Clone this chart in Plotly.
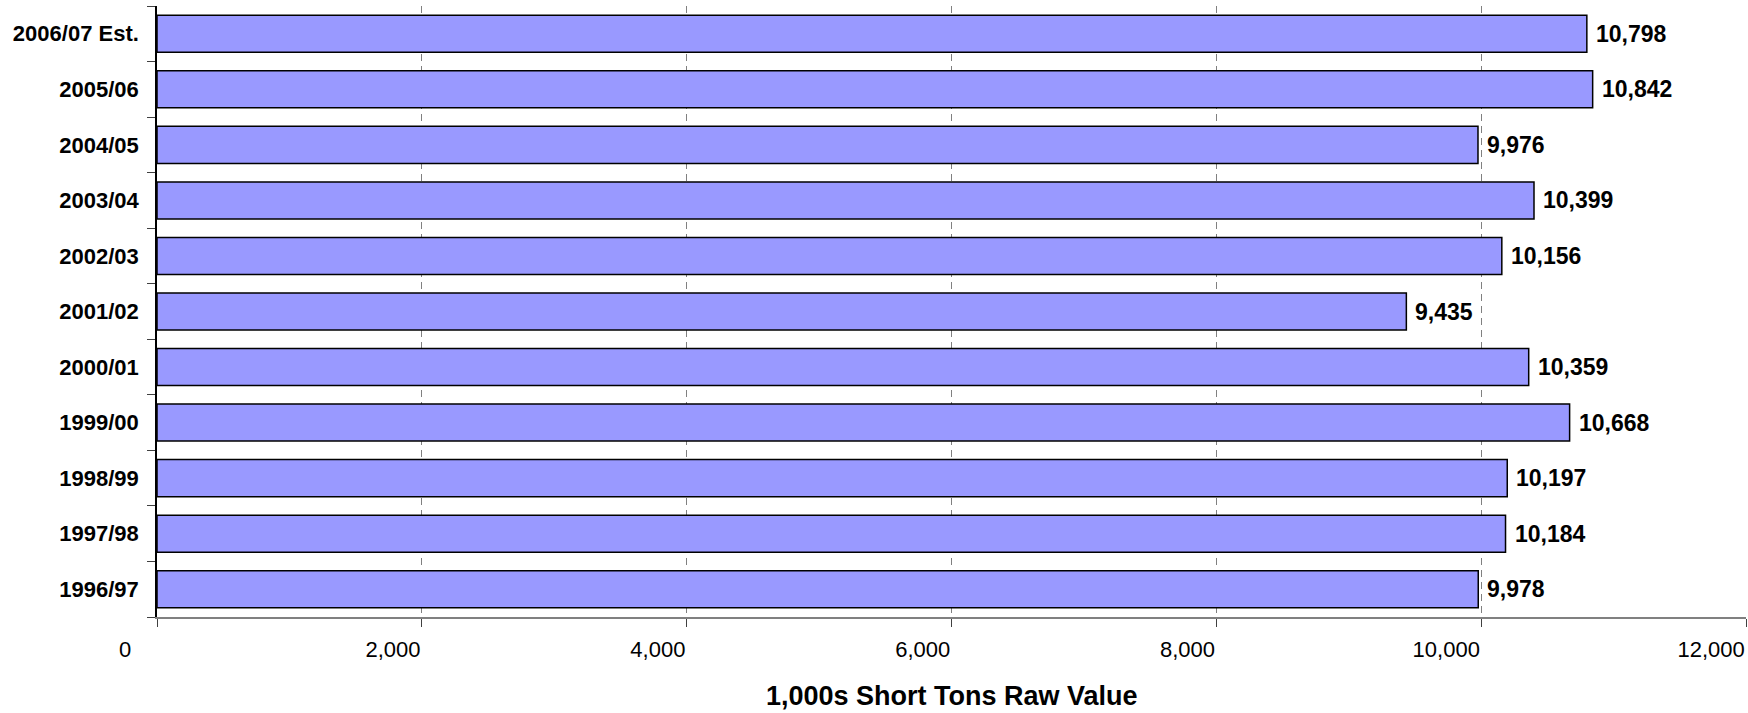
import plotly.graph_objects as go

categories = ["1996/97", "1997/98", "1998/99", "1999/00", "2000/01", "2001/02",
              "2002/03", "2003/04", "2004/05", "2005/06", "2006/07 Est."]
values = [9978, 10184, 10197, 10668, 10359, 9435, 10156, 10399, 9976, 10842, 10798]
x_ticks = [0, 2000, 4000, 6000, 8000, 10000, 12000]
x_tick_labels = ["0", "2,000", "4,000", "6,000", "8,000", "10,000", "12,000"]
x_title = "1,000s Short Tons Raw Value"

FONT = "Arial, 'Liberation Sans', sans-serif"

# the "0" label sits further left of its tick in the reference
tick_text = [x_tick_labels[0] + "\u00a0" * 4] + x_tick_labels[1:]

fig = go.Figure()
fig.add_trace(go.Bar(
    x=values, y=categories, orientation="h",
    marker=dict(color="#9999FF", line=dict(color="#000000", width=1.5)),
    hoverinfo="x+y",
))

annotations = []
for c, v in zip(categories, values):
    annotations.append(dict(
        x=v, y=c, xref="x", yref="y", text=f"<b>{v:,}</b>",
        showarrow=False, xanchor="left", yanchor="middle", xshift=7,
        font=dict(family=FONT, size=23, color="#000000"),
    ))
annotations.append(dict(
    x=0.5, y=0, xref="paper", yref="paper", yshift=-79,
    text=f"<b>{x_title}</b>", showarrow=False, xanchor="center", yanchor="middle",
    font=dict(family=FONT, size=27, color="#000000"),
))

fig.update_layout(
    width=1748, height=713,
    margin=dict(l=157, r=2, t=6, b=96),
    paper_bgcolor="#FFFFFF", plot_bgcolor="#FFFFFF",
    bargap=0.333,
    showlegend=False,
    annotations=annotations,
    font=dict(family=FONT, size=22, color="#000000"),
)
fig.update_xaxes(
    range=[0, 12000], tickvals=x_ticks, ticktext=tick_text,
    showgrid=True, gridcolor="#808080", gridwidth=1, griddash="7px,5px",
    zeroline=False,
    showline=True, linecolor="#808080", linewidth=1.5,
    ticks="outside", ticklen=8, tickcolor="#404040", tickwidth=1,
    ticklabelposition="outside left", ticklabelstandoff=12,
    tickfont=dict(family=FONT, size=22, color="#000000"),
)
fig.update_yaxes(
    type="category", categoryorder="array", categoryarray=categories,
    showgrid=False, zeroline=False,
    showline=True, linecolor="#000000", linewidth=1.5,
    ticks="outside", ticklen=8, tickcolor="#404040", tickwidth=1,
    tickson="boundaries", ticklabelstandoff=12,
    tickfont=dict(family=FONT, size=22, color="#000000", weight="bold"),
)

fig.write_html(
    "out.html",
    config={"displayModeBar": False},
    post_script="document.body.style.margin='0px';document.body.style.overflow='hidden';",
)
